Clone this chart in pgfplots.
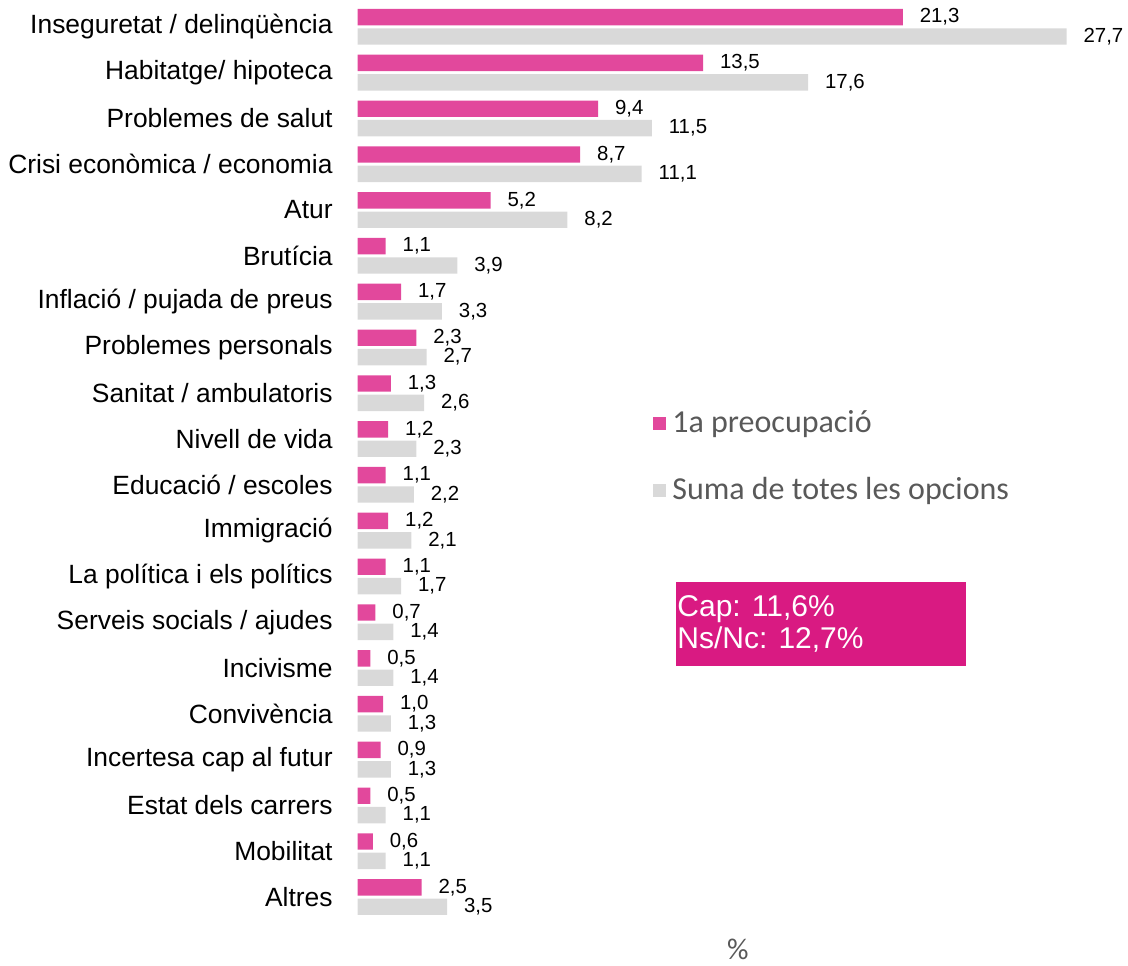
\documentclass[border=0pt]{standalone}
\usepackage{pgfplots}
\pgfplotsset{compat=1.18}
\usepackage{pgfplotstable}
\usepackage{fontspec}
\setmainfont{Liberation Sans}
\newfontfamily\calibri{Carlito}
\definecolor{rosa}{HTML}{E2489C}
\definecolor{gris}{HTML}{D9D9D9}
\definecolor{caixa}{HTML}{D91A82}
\definecolor{gristext}{HTML}{595959}

% idx 19 = top row
\pgfplotstableread{
idx primera suma
19 21.3 27.7
18 13.5 17.6
17 9.4 11.5
16 8.7 11.1
15 5.2 8.2
14 1.1 3.9
13 1.7 3.3
12 2.3 2.7
11 1.3 2.6
10 1.2 2.3
9 1.1 2.2
8 1.2 2.1
7 1.1 1.7
6 0.7 1.4
5 0.5 1.4
4 1.0 1.3
3 0.9 1.3
2 0.5 1.1
1 0.6 1.1
0 2.5 3.5
}\datos

\begin{document}
\begin{tikzpicture}
\path[use as bounding box] (0,0) rectangle (564pt,482.5pt);
\begin{axis}[
  at={(178.75pt,20.25pt)}, anchor=south west,
  x=12.8pt, y=22.9pt,
  xmin=0, xmax=30, ymin=-0.6, ymax=19.6,
  xbar, bar width=8.2pt,
  axis line style={draw=none},
  major tick length=0pt,
  xtick=\empty,
  ytick={0,...,19},
  yticklabels={Altres, Mobilitat, Estat dels carrers, Incertesa cap al futur,
    Convivència, Incivisme, Serveis socials / ajudes, La política i els polítics,
    Immigració, Educació / escoles, Nivell de vida, Sanitat / ambulatoris,
    Problemes personals, Inflació / pujada de preus, Brutícia, Atur,
    Crisi econòmica / economia, Problemes de salut, Habitatge/ hipoteca,
    Inseguretat / delinqüència},
  yticklabel style={font=\fontsize{13.2}{15}\selectfont, inner sep=0pt, anchor=east, xshift=-12.25pt},
  clip=false,
  point meta=x,
  nodes near coords={\pgfmathprintnumber[fixed,fixed zerofill,precision=1,use comma,assume math mode=true]{\pgfplotspointmeta}},
  every node near coord/.append style={font=\fontsize{10.2}{12}\selectfont, text=black, anchor=west, inner sep=0pt, xshift=8.3pt},
  xlabel={\%},
  xlabel style={at={(axis cs:14.86,-1.38)}, anchor=south, inner sep=0pt, font=\calibri\fontsize{15}{18}\selectfont, text=gristext},
  legend style={at={(axis cs:11.54,9.615)}, anchor=west, draw=none, fill=none,
    font=\calibri\fontsize{16}{19}\selectfont, text=gristext, row sep=17pt, inner sep=0pt,
    nodes={inner xsep=3pt}},
  legend cell align=left,
  legend image code/.code={\fill[#1] (0pt,-3.25pt) rectangle (6.5pt,3.25pt);},
]
\addplot[fill=rosa, draw=none, bar shift=4.85pt] table[x=primera, y=idx]{\datos};
\addplot[fill=gris, draw=none, bar shift=-4.85pt] table[x=suma, y=idx]{\datos};
\legend{1a preocupació, Suma de totes les opcions}
\end{axis}
\fill[caixa] (338pt,149.5pt) rectangle (483pt,191.5pt);
\node[anchor=north west, align=left, text=white, font=\fontsize{15}{16}\selectfont, inner sep=0pt] at (338.5pt,185pt) {Cap: 11,6\%\\Ns/Nc: 12,7\%};
\end{tikzpicture}
\end{document}
